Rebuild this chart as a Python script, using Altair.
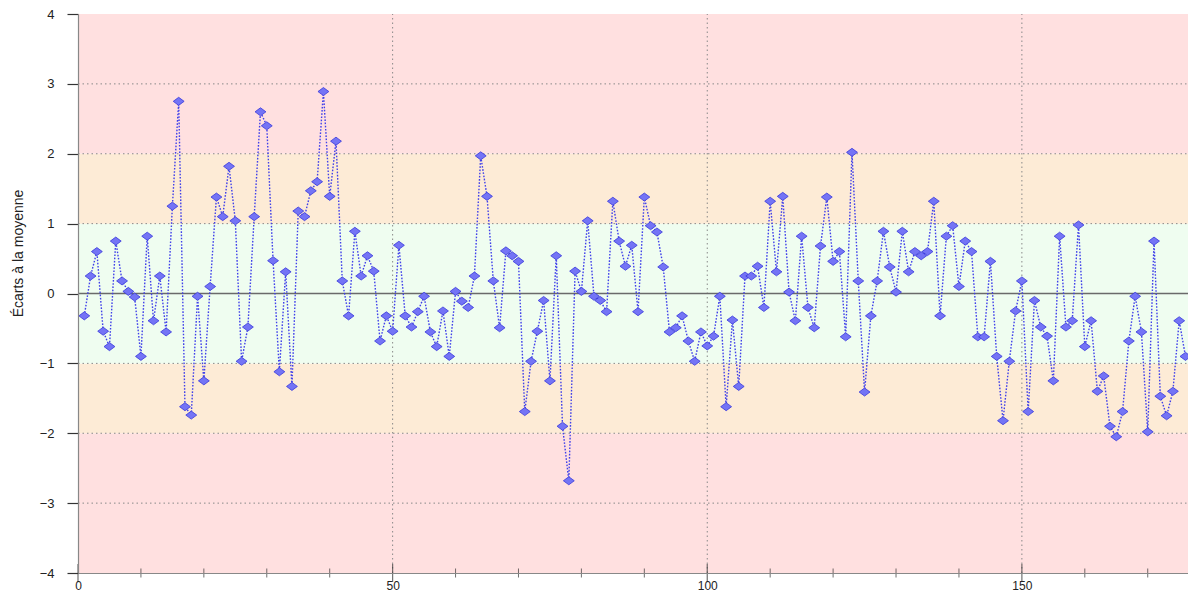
import altair as alt
import pandas as pd

y_values = [
    -0.32, 0.25, 0.60, -0.54, -0.76, 0.75, 0.18, 0.03, -0.05, -0.90, 0.82, -0.39, 0.25, -0.55, 1.25, 2.75, -1.62, -1.74,
    -0.04, -1.25, 0.10, 1.38, 1.10, 1.82, 1.04, -0.97, -0.48, 1.10, 2.60, 2.40, 0.47, -1.12, 0.31, -1.33, 1.18,
    1.10, 1.47, 1.60, 2.89, 1.39, 2.18, 0.18, -0.32, 0.89, 0.25, 0.54, 0.32, -0.68, -0.32, -0.54, 0.69, -0.32,
    -0.48, -0.26, -0.04, -0.55, -0.76, -0.25, -0.90, 0.03, -0.11, -0.20, 0.25, 1.97, 1.39, 0.18, -0.49, 0.61, 0.54, 0.46,
    -1.69, -0.97, -0.54, -0.10, -1.25, 0.54, -1.90, -2.68, 0.32, 0.03, 1.04, -0.04, -0.10, -0.26, 1.32, 0.75, 0.39,
    0.69, -0.26, 1.38, 0.97, 0.88, 0.38, -0.55, -0.49, -0.32, -0.68, -0.97, -0.55, -0.75, -0.61, -0.04, -1.62, -0.38,
    -1.33, 0.25, 0.25, 0.39, -0.20, 1.32, 0.31, 1.39, 0.02, -0.39, 0.82, -0.20, -0.49, 0.68, 1.38, 0.46, 0.60, -0.62,
    2.02, 0.18, -1.41, -0.32, 0.18, 0.89, 0.38, 0.02, 0.89, 0.31, 0.60, 0.54, 0.60, 1.32, -0.32, 0.82, 0.97,
    0.10, 0.75, 0.60, -0.62, -0.62, 0.46, -0.90, -1.82, -0.97, -0.25, 0.18, -1.69, -0.10, -0.48, -0.61, -1.25, 0.82,
    -0.48, -0.39, 0.98, -0.76, -0.39, -1.40, -1.18, -1.90, -2.05, -1.69, -0.68, -0.04, -0.55, -1.98, 0.75, -1.47,
    -1.75, -1.40, -0.39, -0.90,
]
x_index = list(range(1, len(y_values) + 1))

# background zones
band_low = [-4, -2, -1, 1, 2]
band_high = [-2, -1, 1, 2, 4]
band_zone = ["rouge", "orange", "vert", "orange", "rouge"]

# grid lines and ticks
grid_y = [-3, -2, -1, 1, 2, 3]
grid_x = [50, 100, 150]
x_labels = [0, 50, 100, 150]
minor_x = [10, 20, 30, 40, 60, 70, 80, 90, 110, 120, 130, 140, 160, 170]
y_ticks = [-4, -3, -2, -1, 0, 1, 2, 3, 4]

X_MAX = 176.4

df = pd.DataFrame({"x": x_index, "y": y_values})
bands = pd.DataFrame({"lo": band_low, "hi": band_high, "zone": band_zone})
gy = pd.DataFrame({"g": grid_y})
gx = pd.DataFrame({"g": grid_x})
minor = pd.DataFrame({"m": minor_x})
major = pd.DataFrame({"m": x_labels})

xs = alt.Scale(domain=[0, X_MAX], nice=False, zero=False)
ys = alt.Scale(domain=[-4, 4], nice=False)

font = "Liberation Sans"

xaxis = alt.Axis(values=x_labels, ticks=False, grid=False, labelPadding=7, labelFontSize=12,
                 labelFont=font, labelColor="#222", domainColor="#888", domainWidth=1.2,
                 zindex=1, title=None, labelFlush=False, format="d")
yaxis = alt.Axis(values=y_ticks, tickSize=11, tickColor="#333", tickWidth=1.2, grid=False,
                 labelPadding=13, labelFontSize=13, labelFont=font, labelColor="#222",
                 domainColor="#888", domainWidth=1.2, zindex=1, format="d",
                 title="Écarts à la moyenne", titleFont=font, titleFontSize=14,
                 titleFontWeight="normal", titleColor="#222", titleX=-60, titleY=239,
                 titleAngle=270, titleAlign="center", titleBaseline="middle")

band_layer = alt.Chart(bands).mark_rect().encode(
    x=alt.datum(0, scale=xs, axis=xaxis, type="quantitative"),
    x2=alt.datum(X_MAX),
    y=alt.Y("lo:Q", scale=ys, axis=yaxis),
    y2="hi:Q",
    color=alt.Color("zone:N", legend=None,
                    scale=alt.Scale(domain=["rouge", "orange", "vert"],
                                    range=["#ffe0e0", "#fdebd6", "#effdf0"])),
)

hgrid = alt.Chart(gy).mark_rule(color="#888", strokeDash=[1.5, 3], strokeWidth=1).encode(
    y=alt.Y("g:Q", scale=ys),
    x=alt.datum(0),
    x2=alt.datum(X_MAX),
)
vgrid = alt.Chart(gx).mark_rule(color="#888", strokeDash=[1.5, 3], strokeWidth=1).encode(
    x=alt.X("g:Q", scale=xs),
    y=alt.datum(-4),
    y2=alt.datum(4),
)
zero_line = alt.Chart(pd.DataFrame({"z": [0]})).mark_rule(color="#6a6a6a", strokeWidth=1.3).encode(
    y=alt.Y("z:Q", scale=ys),
    x=alt.datum(0),
    x2=alt.datum(X_MAX),
)
minor_ticks = alt.Chart(minor).mark_tick(orient="vertical", size=9, thickness=1, color="#333").encode(
    x=alt.X("m:Q", scale=xs),
    y=alt.datum(-4),
)
major_ticks = alt.Chart(major).mark_tick(orient="vertical", size=18, thickness=1.2, color="#333").encode(
    x=alt.X("m:Q", scale=xs),
    y=alt.datum(-4),
)

line = alt.Chart(df).mark_line(color="#4040ea", strokeWidth=1.4, strokeDash=[1.6, 1.6]).encode(
    x=alt.X("x:Q", scale=xs),
    y=alt.Y("y:Q", scale=ys),
)
points = alt.Chart(df).mark_point(shape="M-1.15,0L0,-0.85L1.15,0L0,0.85Z", filled=True, size=90,
                                  fill="#7474f5", stroke="#3838dc", strokeWidth=0.8, opacity=1).encode(
    x=alt.X("x:Q", scale=xs),
    y=alt.Y("y:Q", scale=ys),
)

chart = alt.layer(band_layer, hgrid, vgrid, zero_line, minor_ticks, major_ticks, line, points).properties(
    width=1110,
    height=559,
    padding={"left": 70, "top": 6, "right": 0, "bottom": 21},
    autosize=alt.AutoSizeParams(type="none"),
    background="white",
).configure_view(stroke=None)

chart.save("out.html", embed_options={"renderer": "svg", "actions": False})
